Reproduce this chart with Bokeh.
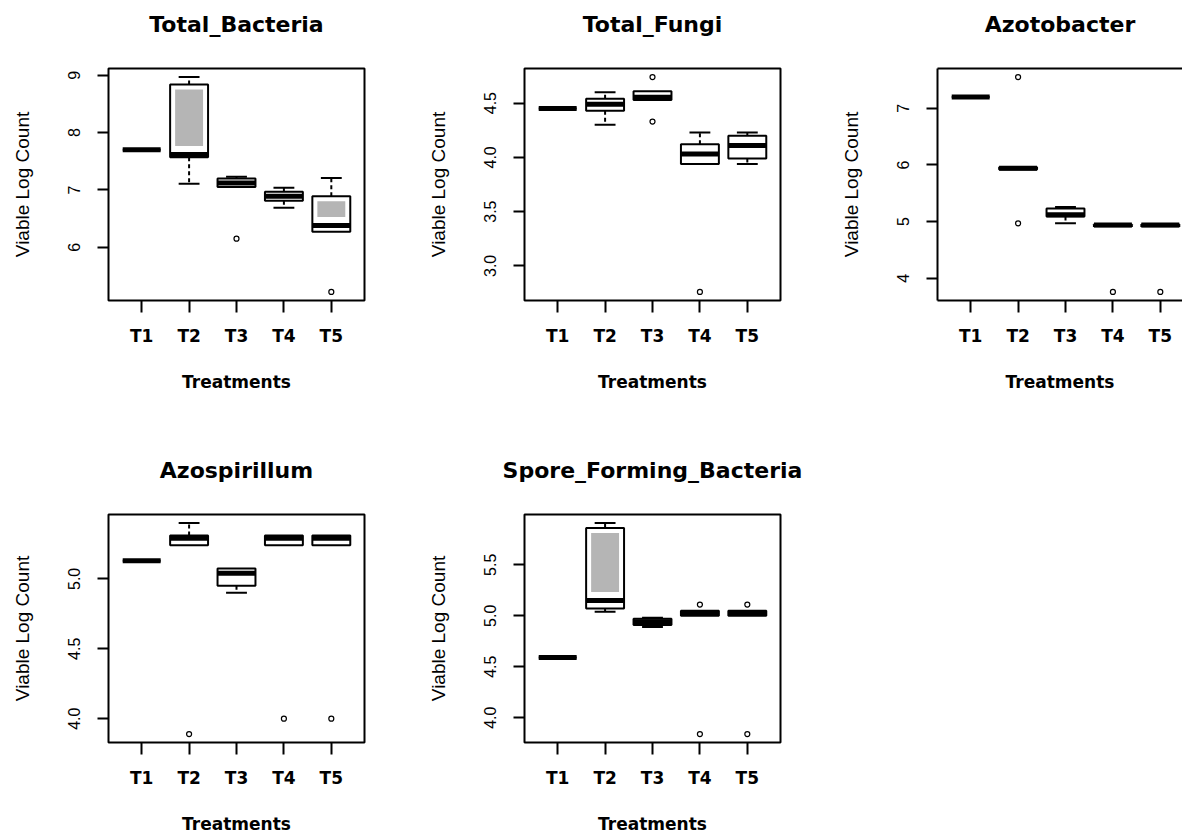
from bokeh.plotting import figure
from bokeh.models import Range1d, FixedTicker, LinearAxis, ColumnDataSource, PrintfTickFormatter
from bokeh.layouts import column, row
from bokeh.embed import file_html
from bokeh.resources import INLINE

treatments = ["T1", "T2", "T3", "T4", "T5"]
y_title = "Viable Log Count"
x_title = "Treatments"

# ---- Total_Bacteria ----
tb_lower = [7.70, 7.11, 7.05, 6.69, 6.27]
tb_q1 = [7.70, 7.57, 7.05, 6.81, 6.27]
tb_median = [7.70, 7.62, 7.12, 6.89, 6.38]
tb_q3 = [7.70, 8.84, 7.20, 6.97, 6.89]
tb_upper = [7.70, 8.97, 7.23, 7.04, 7.21]
tb_outliers = [[], [], [6.15], [], [5.22]]
tb_ticks = [6, 7, 8, 9]

# ---- Total_Fungi ----
tf_lower = [4.45, 4.30, 4.53, 3.94, 3.94]
tf_q1 = [4.45, 4.43, 4.53, 3.94, 3.99]
tf_median = [4.45, 4.49, 4.555, 4.03, 4.11]
tf_q3 = [4.45, 4.54, 4.61, 4.12, 4.20]
tf_upper = [4.45, 4.60, 4.61, 4.23, 4.23]
tf_outliers = [[], [], [4.74, 4.33], [2.76], []]
tf_ticks = [3.0, 3.5, 4.0, 4.5]

# ---- Azotobacter ----
az_lower = [7.20, 5.92, 4.97, 4.92, 4.92]
az_q1 = [7.20, 5.92, 5.09, 4.92, 4.92]
az_median = [7.20, 5.94, 5.12, 4.94, 4.94]
az_q3 = [7.20, 5.96, 5.23, 4.95, 4.95]
az_upper = [7.20, 5.96, 5.26, 4.95, 4.95]
az_outliers = [[], [7.55, 4.97], [], [3.76], [3.76]]
az_ticks = [4, 5, 6, 7]

# ---- Azospirillum ----
as_lower = [5.13, 5.24, 4.90, 5.24, 5.24]
as_q1 = [5.13, 5.24, 4.95, 5.24, 5.24]
as_median = [5.13, 5.29, 5.04, 5.29, 5.29]
as_q3 = [5.13, 5.31, 5.075, 5.31, 5.31]
as_upper = [5.13, 5.40, 5.075, 5.31, 5.31]
as_outliers = [[], [3.89], [], [4.0], [4.0]]
as_ticks = [4.0, 4.5, 5.0]

# ---- Spore_Forming_Bacteria ----
sf_lower = [4.59, 5.04, 4.89, 5.00, 5.00]
sf_q1 = [4.59, 5.07, 4.91, 5.00, 5.00]
sf_median = [4.59, 5.15, 4.94, 5.03, 5.03]
sf_q3 = [4.59, 5.86, 4.97, 5.05, 5.05]
sf_upper = [4.59, 5.91, 4.98, 5.05, 5.05]
sf_outliers = [[], [], [], [5.11, 3.84], [5.11, 3.84]]
sf_ticks = [4.0, 4.5, 5.0, 5.5, 6.0]

FRAME_W = 256
FRAME_H = 232
BORDER_L = 108
BORDER_T = 68
X_LO, X_HI = 0.3, 5.7
BOX_HALF = 0.4
STAPLE_HALF = 0.22
GRAY = "#b5b5b5"


def make_panel(title, lower, q1, med, q3, upper, outliers, yticks, yfmt,
               fig_w, border_r, border_b, xlab_standoff, title_standoff, spacer,
               open_right=False):
    n = len(treatments)
    xs = list(range(1, n + 1))
    allv = lower + upper + [v for o in outliers for v in o]
    lo, hi = min(allv), max(allv)
    pad = 0.04 * (hi - lo)
    ylo, yhi = lo - pad, hi + pad
    frame_w = fig_w - BORDER_L - border_r
    px_x = FRAME_W / (X_HI - X_LO)
    x_end = X_LO + frame_w / px_x
    px_y = FRAME_H / (yhi - ylo)

    p = figure(width=fig_w, height=BORDER_T + FRAME_H + border_b,
               x_range=Range1d(X_LO, x_end), y_range=Range1d(ylo, yhi),
               output_backend="svg", toolbar_location=None,
               min_border_left=BORDER_L, min_border_right=border_r,
               min_border_top=BORDER_T, min_border_bottom=border_b)
    p.xgrid.visible = False
    p.ygrid.visible = False
    p.background_fill_color = "white"
    p.border_fill_color = "white"
    xa = p.below[0]
    ya = p.left[0]

    # whiskers + staples
    wx, wy0, wy1 = [], [], []
    for x, a, b, c, d in zip(xs, lower, q1, q3, upper):
        if d > c:
            wx.append(x); wy0.append(c); wy1.append(d)
        if a < b:
            wx.append(x); wy0.append(b); wy1.append(a)
    wsrc = ColumnDataSource(dict(x=wx, y0=wy0, y1=wy1,
                                 xl=[x - STAPLE_HALF for x in wx],
                                 xr=[x + STAPLE_HALF for x in wx]))
    p.segment(x0="x", y0="y0", x1="x", y1="y1", source=wsrc,
              line_color="black", line_width=2, line_dash="4 3")
    p.segment(x0="xl", y0="y1", x1="xr", y1="y1", source=wsrc,
              line_color="black", line_width=2)

    # boxes
    bsrc = ColumnDataSource(dict(left=[x - BOX_HALF for x in xs],
                                 right=[x + BOX_HALF for x in xs],
                                 q1=q1, q3=q3, med=med))
    p.quad(left="left", right="right", bottom="q1", top="q3", source=bsrc,
           fill_color="white", line_color="black", line_width=2)

    # gray inner shading (as seen in the rendered reference)
    gl, gr, gb, gt = [], [], [], []
    for x, b, m, c in zip(xs, q1, med, q3):
        up_top = c - 5 / px_y
        up_bot = m + 8.5 / px_y
        dn_top = m - 8.5 / px_y
        dn_bot = b + 5 / px_y
        if up_top - up_bot >= dn_top - dn_bot:
            top_, bot_ = up_top, up_bot
        else:
            top_, bot_ = dn_top, dn_bot
        if (top_ - bot_) * px_y > 1.5:
            gl.append(x - BOX_HALF + 5 / px_x)
            gr.append(x + BOX_HALF - 5 / px_x)
            gb.append(bot_); gt.append(top_)
    if gl:
        p.quad(left=gl, right=gr, bottom=gb, top=gt, fill_color=GRAY, line_color=None)

    # medians
    p.segment(x0="left", y0="med", x1="right", y1="med", source=bsrc,
              line_color="black", line_width=5, line_cap="butt")

    # outliers
    ox = [x for x, o in zip(xs, outliers) for _ in o]
    oy = [v for o in outliers for v in o]
    p.scatter(ox, oy, marker="circle", size=5, fill_color="white",
              line_color="black", line_width=1.2)

    # title
    p.title.text = title
    p.title.align = "center"
    p.title.text_font = "DejaVu Sans"
    p.title.text_font_style = "bold"
    p.title.text_font_size = "22px"
    p.title.text_color = "black"
    p.title.standoff = title_standoff

    # x axis
    xa.ticker = FixedTicker(ticks=xs)
    xa.major_label_overrides = {x: t for x, t in zip(xs, treatments)}
    xa.major_tick_out = 12
    xa.major_tick_in = 0
    xa.minor_tick_out = 0
    xa.minor_tick_in = 0
    xa.minor_tick_line_color = None
    xa.major_tick_line_width = 2
    xa.major_tick_line_color = "black"
    xa.major_label_text_font = "DejaVu Sans"
    xa.major_label_text_font_style = "bold"
    xa.major_label_text_font_size = "17px"
    xa.major_label_text_color = "black"
    xa.major_label_standoff = 13
    xa.axis_label = x_title
    xa.axis_label_text_font = "DejaVu Sans"
    xa.axis_label_text_font_style = "bold"
    xa.axis_label_text_font_size = "17px"
    xa.axis_label_text_color = "black"
    xa.axis_label_standoff = xlab_standoff

    # y axis
    ya.ticker = FixedTicker(ticks=yticks)
    ya.formatter = PrintfTickFormatter(format=yfmt)
    ya.major_label_orientation = "parallel"
    ya.major_tick_out = 11
    ya.major_tick_in = 0
    ya.minor_tick_out = 0
    ya.minor_tick_in = 0
    ya.minor_tick_line_color = None
    ya.major_tick_line_width = 2
    ya.major_tick_line_color = "black"
    ya.major_label_text_font = "Liberation Sans"
    ya.major_label_text_font_size = "16px"
    ya.major_label_text_color = "black"
    ya.major_label_standoff = 17
    ya.axis_label = y_title
    ya.axis_label_text_font = "Liberation Sans"
    ya.axis_label_text_font_style = "normal"
    ya.axis_label_text_font_size = "19px"
    ya.axis_label_text_color = "black"
    ya.axis_label_standoff = 33

    if open_right:
        p.outline_line_color = None
        xa.axis_line_color = "black"
        xa.axis_line_width = 2
        ya.axis_line_color = "black"
        ya.axis_line_width = 2
    else:
        p.outline_line_color = "black"
        p.outline_line_width = 2
        p.outline_line_alpha = 1.0
        xa.axis_line_color = None
        ya.axis_line_color = None

    # invisible spacer axis above the frame: lifts the title away from the plot
    # (also draws the top border of the cut-off panel)
    mid = xs[len(xs) // 2]
    top_axis = LinearAxis(ticker=FixedTicker(ticks=[mid]), major_tick_out=spacer, major_tick_in=0,
                          minor_tick_out=0, minor_tick_in=0, major_label_standoff=0,
                          major_tick_line_color="white", major_tick_line_alpha=0.01,
                          major_tick_line_width=1,
                          minor_tick_line_color=None,
                          major_label_overrides={mid: ""},
                          major_label_text_font_size="1px",
                          axis_line_color="black" if open_right else None, axis_line_width=2)
    p.add_layout(top_axis, "above")
    return p


p1 = make_panel("Total_Bacteria", tb_lower, tb_q1, tb_median, tb_q3, tb_upper, tb_outliers,
                tb_ticks, "%d", 416, 52, 146, 23, 12, 26)
p2 = make_panel("Total_Fungi", tf_lower, tf_q1, tf_median, tf_q3, tf_upper, tf_outliers,
                tf_ticks, "%.1f", 413, 49, 146, 23, 12, 26)
p3 = make_panel("Azotobacter", az_lower, az_q1, az_median, az_q3, az_upper, az_outliers,
                az_ticks, "%d", 353, 0, 146, 23, 12, 26, open_right=True)
p4 = make_panel("Azospirillum", as_lower, as_q1, as_median, as_q3, as_upper, as_outliers,
                as_ticks, "%.1f", 416, 52, 90, 23, 12, 26)
p5 = make_panel("Spore_Forming_Bacteria", sf_lower, sf_q1, sf_median, sf_q3, sf_upper, sf_outliers,
                sf_ticks, "%.1f", 413, 49, 90, 23, 12, 26)

layout = column(row(p1, p2, p3), row(p4, p5))

with open("out.html", "w") as f:
    f.write(file_html(layout, INLINE))
